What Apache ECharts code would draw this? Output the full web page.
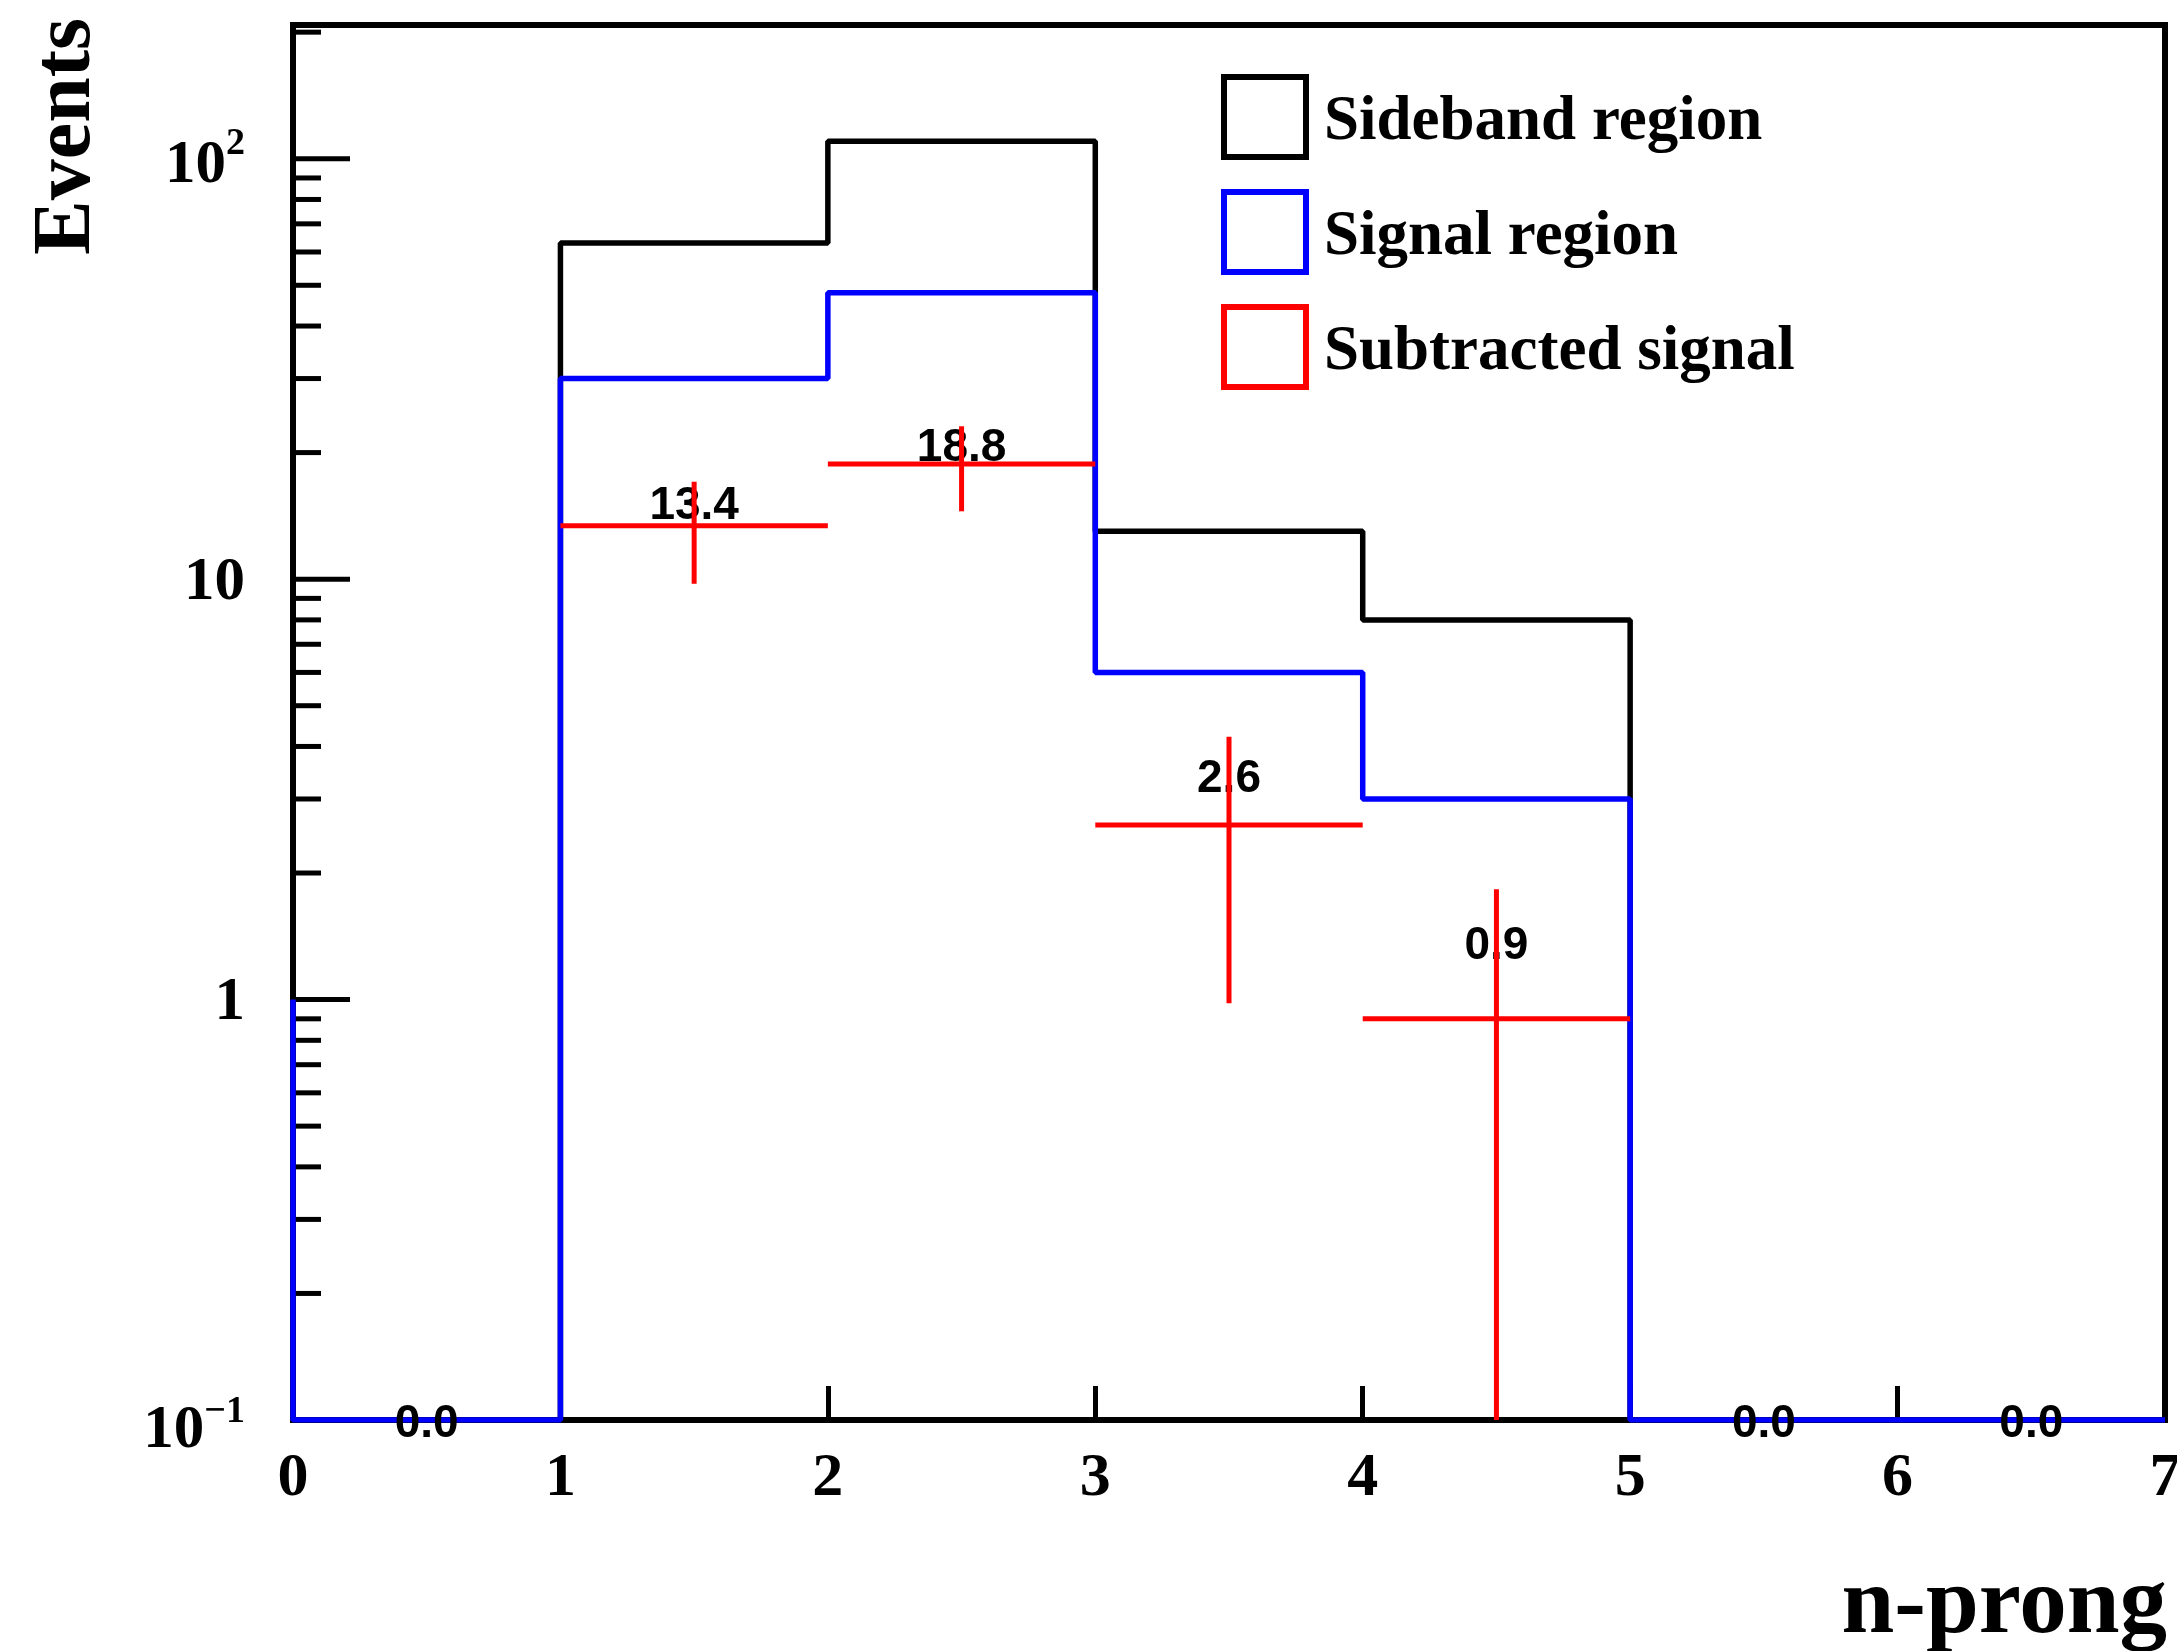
<!DOCTYPE html>
<html><head><meta charset="utf-8">
<script src="https://cdn.jsdelivr.net/npm/echarts@6/dist/echarts.min.js"></script>
<style>html,body{margin:0;padding:0;background:#fff}#chart{width:2177px;height:1651px}</style>
</head><body><div id="chart"></div>
<script>
// ---- data ----
const binLowEdges = [0, 1, 2, 3, 4, 5, 6];
const binWidth = 1;
const xTickLabels = ['0', '1', '2', '3', '4', '5', '6', '7'];
const sideband = [0, 63, 110, 13, 8, 0, 0];
const signal = [0, 30, 48, 6, 3, 0, 0];
const subtracted = [0, 13.4, 18.8, 2.6, 0.9, 0, 0];
const subtractedErr = [0, 3.65, 4.3, 1.62, 0.93, 0, 0];
const yMajorTicks = [1, 10, 100];
const yMinorTicks = [0.2, 0.3, 0.4, 0.5, 0.6, 0.7, 0.8, 0.9, 2, 3, 4, 5, 6, 7, 8, 9, 20, 30, 40, 50, 60, 70, 80, 90, 200];
const seriesNames = ['Sideband region', 'Signal region', 'Subtracted signal'];
const xTitle = 'n-prong';
const yTitle = 'Events';

// ---- axis ranges / styles ----
const Y_MIN = 0.1, Y_MAX = 208, X_MIN = 0, X_MAX = 7;
const ROOT_LOG_BASE = 1; // ROOT begins the outline at the log-space origin (10^0)
const COLORS = ['#000000', '#0000ff', '#ff0000'];
const SERIF = '"Liberation Serif", "Times New Roman", serif';
const SANS = '"Liberation Sans", Arial, sans-serif';

function histPoints(vals) {
  const pts = [[binLowEdges[0], ROOT_LOG_BASE]];
  vals.forEach((v, i) => pts.push([binLowEdges[i], Math.max(v, Y_MIN)]));
  const last = vals.length - 1;
  pts.push([binLowEdges[last] + binWidth, Math.max(vals[last], Y_MIN)]);
  return pts;
}

function tickSeries(values, len) {
  return {
    type: 'custom', silent: true, z: 1, clip: false,
    data: values.map(v => [X_MIN, v]),
    encode: { x: 0, y: 1 },
    renderItem(params, api) {
      const p = api.coord([X_MIN, api.value(1)]);
      return { type: 'line', shape: { x1: p[0], y1: p[1], x2: p[0] + len, y2: p[1] },
               style: { stroke: '#000', lineWidth: 5 } };
    }
  };
}

const errData = [];
subtracted.forEach((v, i) => {
  if (v > 0) errData.push([binLowEdges[i] + binWidth / 2, v, subtractedErr[i], binLowEdges[i], binLowEdges[i] + binWidth]);
});
const labelData = subtracted.map((v, i) => [binLowEdges[i] + binWidth / 2, Math.max(v + 0.5 * subtractedErr[i], Y_MIN), v]);

const mainTok = (pt) => ({ fontSize: 61, lineHeight: 100, fontWeight: 'bold', fontFamily: SERIF, color: '#000',
                           verticalAlign: 'top', padding: [pt, 0, 39 - pt, 0] });
const supTok = (pt) => ({ fontSize: 38, lineHeight: 100, fontWeight: 'bold', fontFamily: SERIF, color: '#000',
                          verticalAlign: 'top', padding: [pt, 0, 62 - pt, 0] });

const chart = echarts.init(document.getElementById('chart'), null, { renderer: 'canvas' });
chart.setOption({
  animation: false,
  backgroundColor: '#ffffff',
  grid: { left: 293, right: 12, top: 25, bottom: 231, show: true, borderColor: '#000', borderWidth: 6,
          containLabel: false, outerBoundsMode: 'none' },
  xAxis: {
    type: 'value', min: X_MIN, max: X_MAX, interval: 1,
    axisLine: { onZero: false, lineStyle: { color: '#000', width: 6 } },
    axisTick: { inside: true, length: 34, lineStyle: { color: '#000', width: 5 } },
    splitLine: { show: false },
    axisLabel: { margin: 28, fontSize: 62, fontWeight: 'bold', fontFamily: SERIF, color: '#000',
                 showMinLabel: true, showMaxLabel: true,
                 formatter: v => xTickLabels[Math.round(v)] }
  },
  yAxis: {
    type: 'log', logBase: 10, min: Y_MIN, max: Y_MAX,
    axisLine: { show: true, onZero: false, lineStyle: { color: '#000', width: 6 } },
    axisTick: { show: false }, minorTick: { show: false }, splitLine: { show: false },
    axisLabel: {
      margin: 48, showMinLabel: true, showMaxLabel: false,
      formatter: v => {
        const l = Math.log10(v), e = Math.round(l);
        if (Math.abs(l - e) > 1e-6) return '';
        if (e === 0) return '{m|1}';
        if (e === 1) return '{m|10}';
        if (e > 1) return '{mp|10}{sp|' + e + '}';
        return '{mn|10}{sn|\u2212' + Math.abs(e) + '}';
      },
      rich: { m: mainTok(23.5), mp: mainTok(27.5), sp: supTok(16), mn: mainTok(30.5), sn: supTok(23) }
    }
  },
  legend: {
    orient: 'vertical', left: 1216, top: 69, itemWidth: 82, itemHeight: 80, itemGap: 29,
    selectedMode: false, icon: 'rect',
    formatter: name => '{t|' + name + '}',
    textStyle: { fontSize: 63, fontWeight: 'bold', fontFamily: SERIF, color: '#000',
      rich: { t: { fontSize: 63, fontWeight: 'bold', fontFamily: SERIF, color: '#000', padding: [11, 0, 0, 13] } } },
    data: seriesNames.map((n, i) => ({ name: n, icon: 'rect',
      itemStyle: { color: '#ffffff', borderColor: COLORS[i], borderWidth: 6 } }))
  },
  graphic: [
    { type: 'text', x: 68, y: 18, rotation: Math.PI / 2, silent: true,
      style: { text: yTitle, font: 'bold 82px ' + SERIF, fill: '#000', align: 'right', verticalAlign: 'middle' } },
    { type: 'text', x: 2167, y: 1607, silent: true,
      style: { text: xTitle, font: 'bold 95px ' + SERIF, fill: '#000', align: 'right', verticalAlign: 'middle' } }
  ],
  series: [
    tickSeries(yMajorTicks, 57),
    tickSeries(yMinorTicks, 28),
    { name: seriesNames[0], type: 'line', step: 'end', symbol: 'none', silent: true, z: 2,
      data: histPoints(sideband), lineStyle: { color: COLORS[0], width: 5.5 }, itemStyle: { color: COLORS[0] } },
    { name: seriesNames[1], type: 'line', step: 'end', symbol: 'none', silent: true, z: 3,
      data: histPoints(signal), lineStyle: { color: COLORS[1], width: 5.5 }, itemStyle: { color: COLORS[1] } },
    { type: 'custom', silent: true, z: 4, clip: false, data: labelData, encode: { x: 0, y: 1 },
      renderItem(params, api) {
        const p = api.coord([api.value(0), api.value(1)]);
        return { type: 'text', x: p[0], y: p[1] + 4,
                 style: { text: api.value(2).toFixed(1), font: 'bold 46px ' + SANS, fill: '#000',
                          align: 'center', verticalAlign: 'middle' } };
      } },
    { name: seriesNames[2], type: 'custom', silent: true, z: 5, clip: false, data: errData,
      encode: { x: 0, y: 1 }, itemStyle: { color: COLORS[2] },
      renderItem(params, api) {
        const xc = api.value(0), v = api.value(1), e = api.value(2);
        const pl = api.coord([api.value(3), v]), pr = api.coord([api.value(4), v]);
        const pt = api.coord([xc, v + e]), pb = api.coord([xc, Math.max(v - e, Y_MIN)]);
        const st = { stroke: COLORS[2], lineWidth: 5 };
        return { type: 'group', children: [
          { type: 'line', shape: { x1: pl[0], y1: pl[1], x2: pr[0], y2: pr[1] }, style: st },
          { type: 'line', shape: { x1: pt[0], y1: pt[1], x2: pb[0], y2: pb[1] }, style: st }
        ] };
      } }
  ]
});
</script></body></html>
